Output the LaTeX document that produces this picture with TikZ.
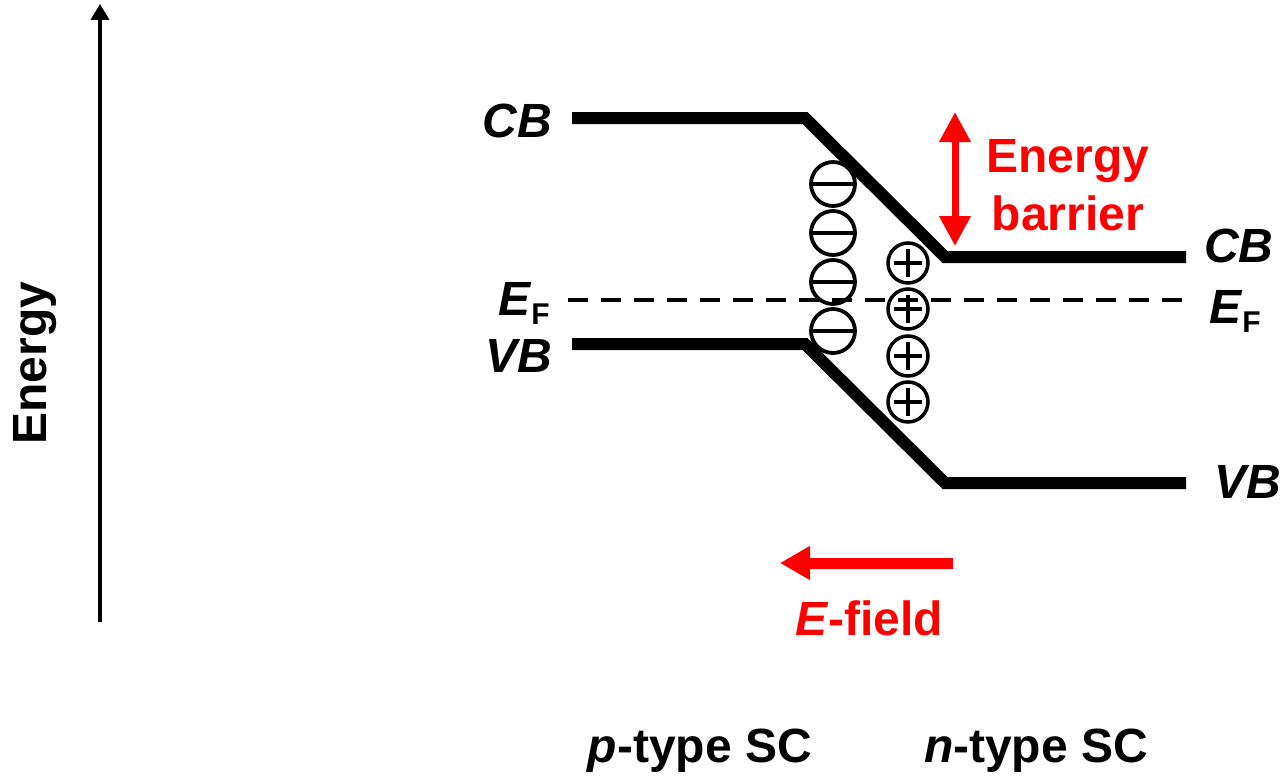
\documentclass[tikz,border=0pt]{standalone}
\usepackage{fontspec}
\setmainfont{Liberation Sans}
\usetikzlibrary{arrows.meta}
\definecolor{myred}{RGB}{255,0,0}
\tikzset{
  lbl/.style={inner sep=0pt, font=\fontsize{48}{52}\selectfont\bfseries},
  band/.style={line width=12pt, line join=miter},
  fermi/.style={line width=4pt, dash pattern=on 20pt off 13pt},
  minuscharge/.style={circle, draw, line width=3.8pt, minimum size=44pt, inner sep=0pt,
    path picture={\draw[line width=4.5pt] ([xshift=-22pt]path picture bounding box.center) -- ([xshift=22pt]path picture bounding box.center);}},
  pluscharge/.style={circle, draw, line width=3.5pt, minimum size=40pt, inner sep=0pt,
    path picture={\draw[line width=4.5pt] ([xshift=-14pt]path picture bounding box.center) -- ([xshift=14pt]path picture bounding box.center);
                  \draw[line width=4.5pt] ([yshift=-14pt]path picture bounding box.center) -- ([yshift=14pt]path picture bounding box.center);}},
}
\newcommand{\EF}{\textit{E}\raisebox{-9pt}{\fontsize{30}{30}\selectfont F}}
\begin{document}
\begin{tikzpicture}[x=1pt,y=-1pt]
\useasboundingbox (0,0) rectangle (1280,776);

% energy axis
\coordinate (ax0) at (100,622);
\coordinate (ax1) at (100,4);
\draw[line width=4pt, -{Triangle[length=16pt,width=18pt]}] (ax0) -- (ax1);
\node[lbl, rotate=90] (energy) at (35,363) {Energy};

% bands
\coordinate (cb1) at (572,118);
\coordinate (cb2) at (805,118);
\coordinate (cb3) at (945,257);
\coordinate (cb4) at (1186,257);
\coordinate (vb1) at (572,344);
\coordinate (vb2) at (805,344);
\coordinate (vb3) at (945,483);
\coordinate (vb4) at (1186,483);
\draw[band] (cb1) -- (cb2) -- (cb3) -- (cb4);
\draw[band] (vb1) -- (vb2) -- (vb3) -- (vb4);

% Fermi level
\coordinate (ef1) at (568,300);
\coordinate (ef2) at (1188,300);
\draw[fermi] (ef1) -- (ef2);

% labels
\node[lbl, anchor=base east] (cbl) at (552,137) {\textit{CB}};
\node[lbl, anchor=base east] (vbl) at (552,372) {\textit{VB}};
\node[lbl, anchor=base east] (efl) at (550,315) {\EF};
\node[lbl, anchor=base west] (cbr) at (1204,262) {\textit{CB}};
\node[lbl, anchor=base west] (efr) at (1209,323) {\EF};
\node[lbl, anchor=base west] (vbr) at (1214,498) {\textit{VB}};

% charges
\node[minuscharge] (m1) at (833,184) {};
\node[minuscharge] (m2) at (833,233) {};
\node[minuscharge] (m3) at (833,282) {};
\node[minuscharge] (m4) at (833,331) {};
\node[pluscharge] (p1) at (908,263) {};
\node[pluscharge] (p2) at (908,309) {};
\node[pluscharge] (p3) at (908,356) {};
\node[pluscharge] (p4) at (908,402) {};

% energy barrier
\coordinate (eb1) at (955,112);
\coordinate (eb2) at (955,246);
\draw[myred, line width=7pt, {Triangle[length=30pt,width=30pt]}-{Triangle[length=30pt,width=30pt]}] (eb1) -- (eb2);
\node[lbl, text=myred, anchor=base] (ebt) at (1068,172) {Energy};
\node[lbl, text=myred, anchor=base] (ebt2) at (1068,230) {barrier};

% E-field
\coordinate (ef3) at (953,563);
\coordinate (ef4) at (780,563);
\draw[myred, line width=11pt, -{Triangle[length=30pt,width=32pt]}] (ef3) -- (ef4);
\node[lbl, text=myred, anchor=base] (efield) at (869,635) {\textit{E}-field};

% regions
\node[lbl, anchor=base] (ptype) at (700,762) {\textit{p}-type SC};
\node[lbl, anchor=base] (ntype) at (1036,762) {\textit{n}-type SC};
\end{tikzpicture}
\end{document}
